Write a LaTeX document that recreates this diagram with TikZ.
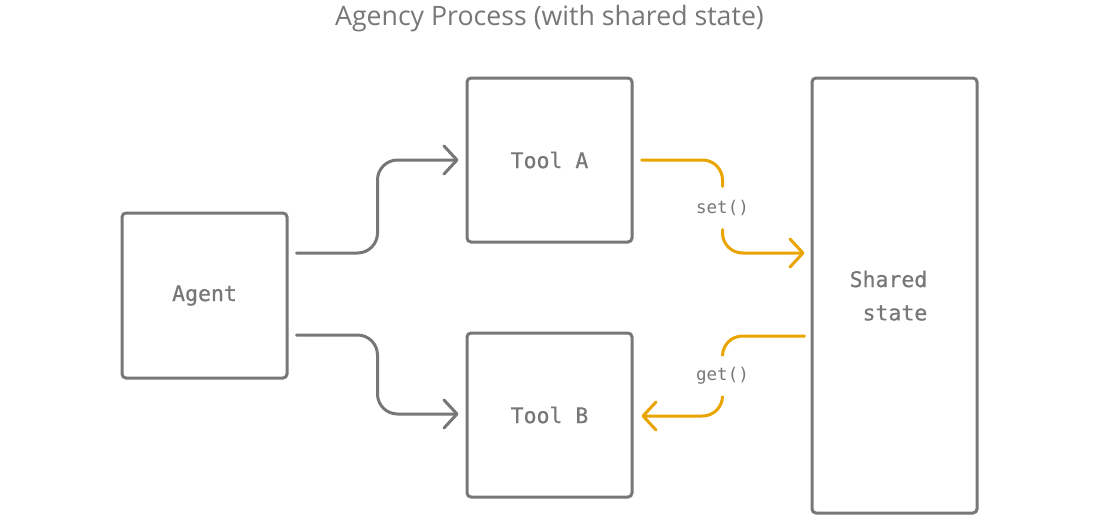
\documentclass[tikz,border=0pt]{standalone}
\usepackage{fontspec}
\setmainfont{Open Sans}
\newfontfamily\monofam{DejaVu Sans Mono}
\newfontfamily\monomed[FakeBold=0.6]{DejaVu Sans Mono}
\usetikzlibrary{arrows.meta,calc}
\definecolor{boxgray}{HTML}{777777}
\definecolor{linkorange}{HTML}{E9A400}
\tikzset{
  box/.style={draw=boxgray,line width=3pt,rounded corners=4pt,inner sep=0pt,
    text=boxgray,font=\monomed\fontsize{21.5}{26}\selectfont},
  conn/.style={line width=3pt,line cap=round,rounded corners=20pt},
  tipbarb/.style={-{Straight Barb[length=13pt,width=28pt,line cap=round,line join=round]}},
  fnlabel/.style={inner sep=0pt,minimum height=43pt,text=boxgray,font=\monofam\fontsize{17.5}{20}\selectfont}
}
\begin{document}
\begin{tikzpicture}[x=1pt,y=-1pt]
\useasboundingbox (0,0) rectangle (1100,520);
\node[text=boxgray,font=\fontsize{26.7}{30}\selectfont] (title) at (549.5,19) {Agency Process (with shared state)};
\node[box,minimum width=165pt,minimum height=165pt] (agent) at (204.5,295.5) {Agent};
\node[box,minimum width=165pt,minimum height=164pt] (toolA) at (549.5,160) {Tool A};
\node[box,minimum width=165pt,minimum height=164pt] (toolB) at (549.5,415) {Tool B};
\node[box,minimum width=165pt,minimum height=435pt] (shared) at (894.5,295.5) {};
\node[text=boxgray,font=\monomed\fontsize{21.5}{26}\selectfont,anchor=east,inner sep=0pt] (sh1) at (927.5,279) {Shared};
\node[text=boxgray,font=\monomed\fontsize{21.5}{26}\selectfont,anchor=east,inner sep=0pt] (sh2) at (927.5,313) {state};
\node[fnlabel] (set) at (722.5,208) {set()};
\node[fnlabel] (get) at (722.5,376) {get()};
% coordinates
\coordinate (a1) at ($(agent.east)+(8,-42.5)$);
\coordinate (a2) at ($(agent.east)+(8,39.5)$);
\coordinate (ta) at ($(toolA.west)+(-7,0)$);
\coordinate (tb) at ($(toolB.west)+(-7,-1)$);
\coordinate (ao) at ($(toolA.east)+(8,0)$);
\coordinate (si) at ($(shared.west)+(-6,-42.5)$);
\coordinate (so) at ($(shared.west)+(-6,40.5)$);
\coordinate (bi) at ($(toolB.east)+(8,1)$);
% gray connectors
\draw[conn,boxgray,tipbarb] (a1) -| ($(a1)!0.5!(ta)$) |- (ta);
\draw[conn,boxgray,tipbarb] (a2) -| ($(a2)!0.5!(tb)$) |- (tb);
% orange connectors
\draw[conn,linkorange] (ao) -| (set.north);
\draw[conn,linkorange,tipbarb] (set.south) |- (si);
\draw[conn,linkorange] (so) -| (get.north);
\draw[conn,linkorange,tipbarb] (get.south) |- (bi);
\end{tikzpicture}
\end{document}
